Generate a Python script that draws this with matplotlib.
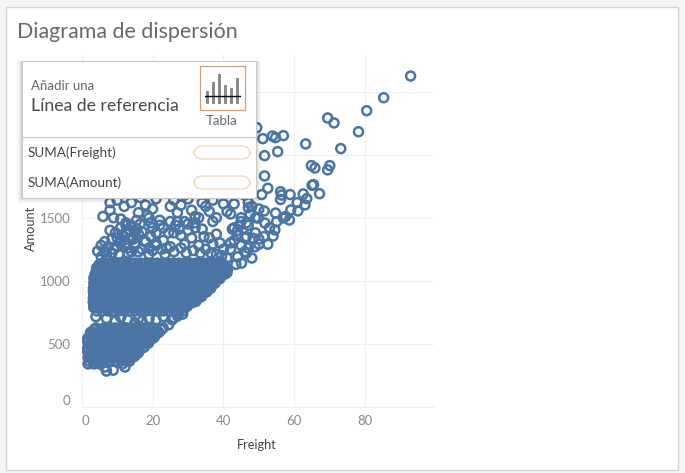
import matplotlib
matplotlib.use("Agg")
import matplotlib.pyplot as plt
from matplotlib.patches import Rectangle, FancyBboxPatch

plt.rcParams['font.family'] = ['Lato', 'DejaVu Sans']

W, H = 685, 473

# (amount, freight values) rows of the two dense clusters
low_cluster = [
    (283, [7]), (290, [8.9]), (315, [12.2, 6.5]), (340, [1.8, 3.5, 5, 11.5]),
    (362, [2, 3.3, 4.8, 6.4, 7.9, 9.5, 11, 12.6, 13.5]),
    (390, [1.8, 3.3, 4.8, 6.4, 7.9, 9.5, 11, 12.6, 14.1]),
    (400, [2.5, 4, 5.6, 7.1, 8.7, 10.2, 11.8, 13.3, 14.9]),
    (428, [2.5, 4, 5.6, 7.1, 8.7, 10.2, 11.8, 13.3, 14.9, 16]),
    (438, [1.7, 3.3, 4.8, 6.4, 7.9, 9.5, 11, 12.6, 14.1, 15.7]),
    (466, [1.7, 3.3, 4.8, 6.4, 7.9, 9.5, 11, 12.6, 14.1, 15.7, 17.2]),
    (476, [2.5, 4, 5.6, 7.1, 8.7, 10.2, 11.8, 13.3, 14.9, 16.4, 17.7]),
    (504, [2.5, 4, 5.6, 7.1, 8.7, 10.2, 11.8, 13.3, 14.9, 16.4, 18, 18.8]),
    (514, [1.7, 3.3, 4.8, 6.4, 7.9, 9.5, 11, 12.6, 14.1, 15.7, 17.2, 18.8]),
    (542, [1.7, 3.3, 4.8, 6.4, 7.9, 9.5, 11, 12.6, 14.1, 15.7, 17.2, 18.8, 20]),
    (552, [2.5, 4, 5.6, 7.1, 8.7, 10.2, 11.8, 13.3, 14.9, 16.4, 18, 19.5, 20.5]),
    (580, [2.5, 4, 5.6, 7.1, 8.7, 10.2, 11.8, 13.3, 14.9, 16.4, 18, 19.5, 21.1]),
    (590, [2.5, 3.3, 4.8, 6.4, 7.9, 9.5, 11, 12.6, 14.1, 15.7, 17.2, 18.8, 20.3, 21.8]),
    (612, [3.5, 5.6, 7.1, 8.7, 10.2, 11.8, 13.3, 14.9, 16.4, 18, 19.5, 21.1, 22.5]),
    (625, [4, 6.4, 7.9, 9.5, 11, 12.6, 14.1, 15.7, 17.2, 18.8, 20.3, 23]),
]
mid_cluster = [
    (760, [4.3, 5.8, 7.4, 8.9, 10.5, 12, 13.6, 15.1, 16.7, 18.2, 19.8, 21.3, 22.9, 24.4, 26, 27.5, 28.6]),
    (788, [3.4, 5.8, 7.4, 8.9, 10.5, 12, 13.6, 15.1, 16.7, 18.2, 19.8, 21.3, 22.9, 24.4, 26, 27.5, 29.1]),
    (798, [3.5, 5, 6.6, 8.1, 9.7, 11.2, 12.8, 14.3, 15.9, 17.4, 19, 20.5, 22.1, 23.6, 25.2, 26.7, 28.3, 29.8]),
    (826, [3.3, 5, 6.6, 8.1, 9.7, 11.2, 12.8, 14.3, 15.9, 17.4, 19, 20.5, 22.1, 23.6, 25.2, 26.7, 28.3, 29.8, 31.2]),
    (836, [3.3, 4.3, 5.8, 7.4, 8.9, 10.5, 12, 13.6, 15.1, 16.7, 18.2, 19.8, 21.3, 22.9, 24.4, 26, 27.5, 29.1, 30.6, 32.2]),
    (864, [3.3, 4.3, 5.8, 7.4, 8.9, 10.5, 12, 13.6, 15.1, 16.7, 18.2, 19.8, 21.3, 22.9, 24.4, 26, 27.5, 29.1, 30.6, 32.2, 33]),
    (874, [3.5, 5, 6.6, 8.1, 9.7, 11.2, 12.8, 14.3, 15.9, 17.4, 19, 20.5, 22.1, 23.6, 25.2, 26.7, 28.3, 29.8, 31.4, 32.9, 33.8]),
    (902, [3.5, 5, 6.6, 8.1, 9.7, 11.2, 12.8, 14.3, 15.9, 17.4, 19, 20.5, 22.1, 23.6, 25.2, 26.7, 28.3, 29.8, 31.4, 32.9, 34.5]),
    (912, [3.3, 4.3, 5.8, 7.4, 8.9, 10.5, 12, 13.6, 15.1, 16.7, 18.2, 19.8, 21.3, 22.9, 24.4, 26, 27.5, 29.1, 30.6, 32.2, 33.7, 35.3]),
    (940, [3.3, 4.3, 5.8, 7.4, 8.9, 10.5, 12, 13.6, 15.1, 16.7, 18.2, 19.8, 21.3, 22.9, 24.4, 26, 27.5, 29.1, 30.6, 32.2, 33.7, 35.3, 36.4]),
    (950, [3.5, 5, 6.6, 8.1, 9.7, 11.2, 12.8, 14.3, 15.9, 17.4, 19, 20.5, 22.1, 23.6, 25.2, 26.7, 28.3, 29.8, 31.4, 32.9, 34.5, 36]),
    (978, [3.5, 5, 6.6, 8.1, 9.7, 11.2, 12.8, 14.3, 15.9, 17.4, 19, 20.5, 22.1, 23.6, 25.2, 26.7, 28.3, 29.8, 31.4, 32.9, 34.5, 36, 37.5]),
    (988, [3.5, 4.3, 5.8, 7.4, 8.9, 10.5, 12, 13.6, 15.1, 16.7, 18.2, 19.8, 21.3, 22.9, 24.4, 26, 27.5, 29.1, 30.6, 32.2, 33.7, 35.3, 36.8, 37.7]),
    (1016, [3.5, 4.3, 5.8, 7.4, 8.9, 10.5, 12, 13.6, 15.1, 16.7, 18.2, 19.8, 21.3, 22.9, 24.4, 26, 27.5, 29.1, 30.6, 32.2, 33.7, 35.3, 36.8, 38.4, 39]),
    (1026, [3.5, 5, 6.6, 8.1, 9.7, 11.2, 12.8, 14.3, 15.9, 17.4, 19, 20.5, 22.1, 23.6, 25.2, 26.7, 28.3, 29.8, 31.4, 32.9, 34.5, 36, 37.6, 39.1]),
    (1054, [3.8, 5, 6.6, 8.1, 9.7, 11.2, 12.8, 14.3, 15.9, 17.4, 19, 20.5, 22.1, 23.6, 25.2, 26.7, 28.3, 29.8, 31.4, 32.9, 34.5, 36, 37.6, 39.1, 40.5]),
    (1064, [4.3, 5.8, 7.4, 8.9, 10.5, 12, 13.6, 15.1, 16.7, 18.2, 19.8, 21.3, 22.9, 24.4, 26, 27.5, 29.1, 30.6, 32.2, 33.7, 35.3, 36.8, 38.4, 39.9, 41]),
    (1092, [4.3, 5.8, 7.4, 8.9, 10.5, 12, 13.6, 15.1, 16.7, 18.2, 19.8, 21.3, 22.9, 24.4, 26, 27.5, 29.1, 30.6, 32.2, 33.7, 35.3, 36.8, 38.4, 39.9, 41.2]),
    (1102, [4.2, 5, 6.6, 8.1, 9.7, 11.2, 12.8, 14.3, 15.9, 17.4, 19, 20.5, 22.1, 23.6, 25.2, 26.7, 28.3, 29.8, 31.4, 32.9, 34.5, 36, 37.6, 39.1, 40.7]),
    (1130, [5, 6.6, 8.1, 9.7, 11.2, 12.8, 14.3, 15.9, 17.4, 19, 20.5, 22.1, 23.6, 25.2, 26.7, 28.3, 29.8, 31.4, 32.9, 34.5, 36, 37.6, 39.1, 40]),
    (1140, [5.8, 7.4, 8.9, 10.5, 12, 13.6, 15.1, 16.7, 18.2, 19.8, 21.3, 22.9, 24.4, 26, 27.5, 29.1, 30.6, 32.2, 33.7, 35.3, 36.8, 38.4, 39.5]),
]
# sparse rings between the clusters
gap_freight = [7, 9.5, 13, 17, 19, 21, 23, 25.5, 27, 28.5, 26, 16, 11, 4, 15, 24.5]
gap_amount = [700, 680, 690, 680, 700, 690, 715, 690, 720, 735, 705, 700, 710, 715, 665, 650]

# rings above the dense band
upper_freight = [4.5, 5.5, 6.5, 7.5, 8.5, 9, 10, 11, 12, 13, 14, 15, 16, 17, 18, 19, 20, 21, 22.5, 24,
                 6.5, 8, 9.5, 11, 12.5, 14, 15, 16.5, 18, 19.5, 21, 23, 25, 26, 27.5, 29, 31, 33, 35, 37,
                 8, 9, 11, 12.5, 14, 15.5, 17, 19, 23, 25, 26.5, 28, 30, 32, 34, 36, 38, 40, 42, 44, 46,
                 10, 12, 14, 16, 18, 19.5, 25, 27, 29, 31, 33, 35, 37, 41, 43, 45, 47, 49, 50,
                 6, 8, 12, 16.5, 18.5, 20, 22, 26, 28, 30, 32, 34, 36, 38, 40, 42, 45, 47, 49,
                 9, 13, 18, 21, 24, 27, 29, 31, 34, 37, 40, 43, 46, 48,
                 10, 11, 12.5, 13.5, 14.5, 15.5, 11.5, 12.5, 14, 15, 10.5, 13, 16, 7, 8.5, 5.5,
                 19, 20, 21, 22, 23.5, 24.5, 26, 27, 28, 29.5, 30, 31.5, 32, 33.5, 34.5,
                 38, 39, 41, 42, 43, 44, 45, 46, 47, 44.5, 46.5, 42.5, 39.5, 36.5]
upper_amount = [1235, 1280, 1310, 1270, 1330, 1250, 1340, 1300, 1350, 1260, 1340, 1290, 1370, 1250, 1310, 1260, 1240, 1280, 1250, 1260,
                1230, 1400, 1380, 1420, 1390, 1440, 1380, 1450, 1310, 1350, 1380, 1320, 1270, 1380, 1410, 1290, 1340, 1280, 1250, 1290,
                1560, 1500, 1490, 1460, 1430, 1480, 1390, 1500, 1420, 1470, 1440, 1360, 1400, 1460, 1410, 1340, 1370, 1250, 1300, 1360, 1230,
                1640, 1590, 1620, 1540, 1600, 1460, 1590, 1540, 1470, 1560, 1500, 1590, 1470, 1550, 1420, 1500, 1440, 1380, 1330,
                1510, 1620, 1700, 1660, 1520, 1570, 1480, 1640, 1600, 1650, 1510, 1620, 1550, 1500, 1610, 1530, 1470, 1580, 1500,
                1700, 1720, 1760, 1650, 1700, 1720, 1680, 1730, 1690, 1640, 1700, 1610, 1680, 1590,
                1270, 1320, 1300, 1400, 1330, 1410, 1360, 1440, 1230, 1300, 1210, 1220, 1230, 1200, 1220, 1190,
                1210, 1420, 1300, 1440, 1210, 1380, 1230, 1470, 1260, 1220, 1450, 1240, 1420, 1220, 1350,
                1210, 1300, 1180, 1250, 1320, 1400, 1280, 1340, 1260, 1440, 1460, 1410, 1200, 1220]

# right hand tail, read ring by ring
tail_freight = [92.8, 85.2, 80.4, 78.1, 69.4, 71.2, 73.1, 63.2, 64.8, 65.8, 70, 69.4, 65.4, 65, 67.1, 62.5,
                63.5, 63, 60.8, 61, 59, 58.8, 56.1, 56.4, 56.1, 52.5, 50.8, 51.6, 51.6, 55.3, 56.9, 54.7,
                53.8, 51.1, 49.4, 47, 50, 51.5, 54.7, 47.5, 58.6, 56.9, 55, 51.7, 49.8, 54, 51.4, 54.5,
                48.9, 46.5, 48.4, 45.1, 46.5, 57.5, 53, 52.5, 50, 48, 44, 43.5]
tail_amount = [2625, 2453, 2350, 2183, 2292, 2253, 2049, 2086, 1914, 1895, 1914, 1880, 1763, 1758, 1691, 1689,
               1652, 1602, 1620, 1554, 1562, 1684, 1707, 1680, 1645, 1734, 1684, 1832, 1993, 2025, 2152, 2136,
               2149, 2128, 2215, 1620, 1570, 1554, 1537, 1530, 1482, 1498, 1469, 1458, 1498, 1355, 1350, 1403,
               1270, 1350, 1337, 1140, 1220, 1510, 1420, 1290, 1290, 1180, 1190, 1130]

x_ticks = [0, 20, 40, 60, 80]
y_ticks = [0, 500, 1000, 1500, 2000, 2500]
y_tick_labels = ['0', '500', '1000', '1500', '', '']

icon_bars = [13, 22, 30, 19, 16, 26]

freight = []
amount = []
for a, row in low_cluster + mid_cluster:
    freight += row
    amount += [a] * len(row)
freight += gap_freight + upper_freight + tail_freight
amount += gap_amount + upper_amount + tail_amount


def fx(px):
    return px / W


def fy(py):
    return 1 - py / H


def px_rect(x0, y0, x1, y1, **kw):
    return Rectangle((fx(x0), fy(y1)), (x1 - x0) / W, (y1 - y0) / H, transform=fig.transFigure, **kw)


fig = plt.figure(figsize=(W / 100, H / 100), dpi=100, facecolor='#f5f5f5')

# white panel
fig.add_artist(px_rect(6, 7, 678, 470, facecolor='white', edgecolor='#d4d4d4', linewidth=1, zorder=-1))
fig.text(fx(17), fy(32), 'Diagrama de dispersión', fontsize=15.4, color='#686868', va='center')

ax = fig.add_axes([fx(81.7), fy(406.7), (434 - 81.7) / W, (406.7 - 54) / H])
ax.patch.set_visible(False)
ax.scatter(freight, amount, s=42, facecolors='none', edgecolors='#4a74a3', linewidths=1.8, clip_on=False, zorder=3)
ax.set_xlim(0, 99.4)
ax.set_ylim(0, 2800)
ax.set_xticks(x_ticks)
ax.set_yticks(y_ticks)
ax.set_yticklabels(y_tick_labels)
ax.grid(color='#f0f0f0', linewidth=0.8)
ax.set_axisbelow(True)
ax.tick_params(length=0, labelsize=9.5, labelcolor='#8a8a8a', pad=6)
ax.tick_params(axis='y', pad=8)
for s in ['top', 'right']:
    ax.spines[s].set_visible(False)
for s in ['left', 'bottom']:
    ax.spines[s].set_color('#f0f0f0')
ax.get_yticklabels()[0].set_verticalalignment('bottom')
ax.get_xticklabels()[0].set_horizontalalignment('left')

fig.text(fx(257), fy(445), 'Freight', fontsize=9.2, color='#444444', ha='center', va='center')
fig.text(fx(31), fy(228), 'Amount', fontsize=9.2, color='#444444', rotation=90, ha='center', va='center')

# reference line popup
for grow, alpha in [(5, 0.04), (3, 0.06), (1, 0.10)]:
    fig.add_artist(px_rect(22 - grow, 61, 256 + grow, 198 + grow, facecolor='black', edgecolor='none', alpha=alpha, zorder=5))
fig.add_artist(px_rect(22, 61, 256, 198, facecolor='white', edgecolor='#c8c8c8', linewidth=0.8, zorder=6))
fig.add_artist(plt.Line2D([fx(22), fx(256)], [fy(136.5), fy(136.5)], transform=fig.transFigure, color='#c8c8c8', linewidth=0.8, zorder=7))
fig.add_artist(px_rect(200, 66, 245, 110, facecolor='white', edgecolor='#c9a27e', linewidth=0.9, zorder=7))

popup_text = dict(va='center', zorder=8)
fig.text(fx(31), fy(86), 'Añadir una', fontsize=9.5, color='#666666', **popup_text)
fig.text(fx(31), fy(106), 'Línea de referencia', fontsize=12.7, color='#4a4a4a', **popup_text)
fig.text(fx(222), fy(121), 'Tabla', fontsize=9.5, color='#666666', ha='center', **popup_text)
fig.text(fx(28), fy(153), 'SUMA(Freight)', fontsize=9.7, color='#444444', **popup_text)
fig.text(fx(28), fy(183), 'SUMA(Amount)', fontsize=9.7, color='#444444', **popup_text)

for y0 in [146, 176]:
    pill = FancyBboxPatch((fx(194), fy(y0 + 13)), 56 / W, 13 / H, boxstyle='round,pad=0,rounding_size=0.012',
                          mutation_aspect=W / H, transform=fig.transFigure, facecolor='white',
                          edgecolor='#f3d9c4', linewidth=1, zorder=7)
    fig.add_artist(pill)

# small bar icon
icon = fig.add_axes([fx(204.5), fy(104), 36 / W, 30 / H], zorder=9)
icon.bar(range(len(icon_bars)), icon_bars, width=0.6, color='#8c8c8c')
icon.axhline(7.5, color='black', linewidth=1)
icon.set_xlim(-0.5, 5.5)
icon.set_ylim(0, 30)
icon.axis('off')

fig.savefig('out.png', dpi=100, facecolor=fig.get_facecolor())
